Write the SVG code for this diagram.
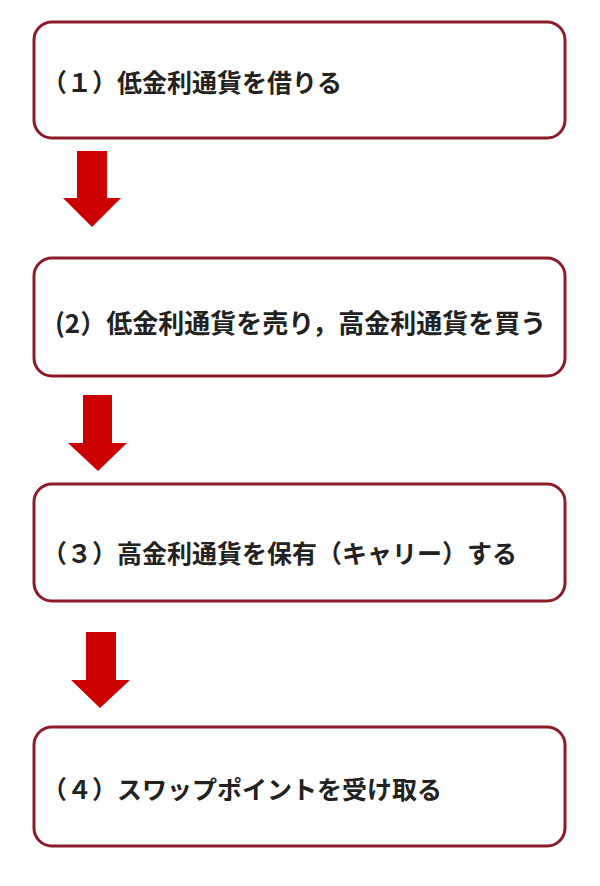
<svg xmlns="http://www.w3.org/2000/svg" width="600" height="886" viewBox="0 0 600 886">
<style>
.box{fill:#ffffff;stroke:#8e1b2c;stroke-width:3}
.lbl{font-family:"Noto Sans CJK JP","Noto Sans CJK SC",sans-serif;font-weight:bold;font-size:25px;fill:#222222}
.arrow{fill:#cc0000}
</style>
<rect width="600" height="886" fill="#ffffff"/>
<g id="connectors">
<polygon class="arrow" points="77,151 107,151 107,198 121,198 92,227 63,198 77,198"/>
<polygon class="arrow" points="83,395 112,395 112,443 127,443 98,471 68,443 83,443"/>
<polygon class="arrow" points="86,632 116,632 116,680 130,680 100,708 71,680 86,680"/>
</g>
<g id="node1">
<rect class="box" x="34" y="22" width="531" height="116" rx="18"/>
<text class="lbl" x="42" y="91.5">（１）低金利通貨を借りる</text>
</g>
<g id="node2">
<rect class="box" x="34" y="258" width="531" height="118" rx="18"/>
<text class="lbl" x="55" y="333" style="font-size:26px">(2）低金利通貨を売り，高金利通貨を買う</text>
</g>
<g id="node3">
<rect class="box" x="34" y="484" width="531" height="117" rx="18"/>
<text class="lbl" x="42" y="563">（３）高金利通貨を保有（キャリー）する</text>
</g>
<g id="node4">
<rect class="box" x="34" y="727" width="531" height="119" rx="18"/>
<text class="lbl" x="42" y="799">（４）スワップポイントを受け取る</text>
</g>
</svg>
